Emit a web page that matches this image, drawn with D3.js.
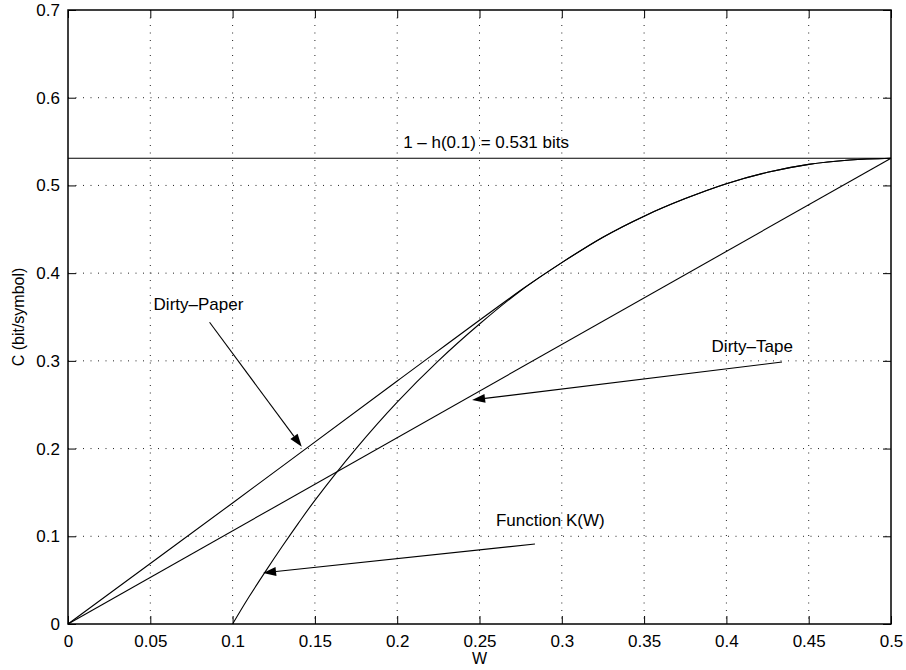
<!DOCTYPE html>
<html>
<head>
<meta charset="utf-8">
<script src="https://cdn.jsdelivr.net/npm/d3@7"></script>
<style>
  body { margin: 0; background: #fff; }
  text { font-family: "Liberation Sans", Arial, Helvetica, sans-serif; fill: #000; }
</style>
</head>
<body>
<div id="chart"></div>
<script>
// data
var xTicks = [0, 0.05, 0.1, 0.15, 0.2, 0.25, 0.3, 0.35, 0.4, 0.45, 0.5];
var yTicks = [0, 0.1, 0.2, 0.3, 0.4, 0.5, 0.6, 0.7];

// Function K(W)
var kW = [0.1, 0.11, 0.12, 0.13, 0.14, 0.15, 0.175, 0.2, 0.225, 0.25, 0.275, 0.3, 0.325, 0.35, 0.375, 0.4, 0.425, 0.45, 0.475, 0.5];
var kC = [0, 0.031, 0.060, 0.088, 0.115, 0.141, 0.200, 0.253, 0.300, 0.342, 0.380, 0.412, 0.441, 0.465, 0.485, 0.502, 0.515, 0.524, 0.529, 0.531];

// Dirty-Paper (straight from origin, then along K)
var paperW = [0, 0.1, 0.2, 0.277, 0.3, 0.325, 0.35, 0.375, 0.4, 0.425, 0.45, 0.475, 0.5];
var paperC = [0, 0.138, 0.277, 0.383, 0.412, 0.441, 0.465, 0.485, 0.502, 0.515, 0.524, 0.529, 0.531];

// Dirty-Tape
var tapeW = [0, 0.5];
var tapeC = [0, 0.531];

// 1 - h(0.1)
var limitW = [0, 0.5];
var limitC = [0.531, 0.531];

// labels and arrows (data coords)
var labels = ["1 \u2013 h(0.1) = 0.531 bits", "Dirty\u2013Paper", "Dirty\u2013Tape", "Function K(W)"];
var labelX = [0.254, 0.052, 0.391, 0.260];
var labelY = [0.543, 0.358, 0.310, 0.112];
var labelAnchor = ["middle", "start", "start", "start"];
var arrowFrom = [[0.086, 0.344], [0.4338, 0.2987], [0.2837, 0.0912]];
var arrowTo = [[0.142, 0.202], [0.2455, 0.2554], [0.1185, 0.0582]];

var width = 906, height = 670;
var margin = {left: 68, top: 10, right: 15, bottom: 46};
var w = width - margin.left - margin.right,
    h = height - margin.top - margin.bottom;

var svg = d3.select("#chart").append("svg")
    .attr("width", width).attr("height", height)
    .style("background", "#fff");
var g = svg.append("g")
    .attr("transform", "translate(" + margin.left + "," + margin.top + ")");

var xScale = d3.scaleLinear().domain([0, 0.5]).range([0, w]);
var yScale = d3.scaleLinear().domain([0, 0.7]).range([h, 0]);

// grid
g.selectAll(".vgrid").data(xTicks.slice(1, -1)).enter().append("line")
    .attr("x1", function (d) { return xScale(d); })
    .attr("x2", function (d) { return xScale(d); })
    .attr("y1", 0).attr("y2", h)
    .style("stroke", "#222").style("stroke-width", 1).style("stroke-dasharray", "1,6.5");
g.selectAll(".hgrid").data(yTicks.slice(1, -1)).enter().append("line")
    .attr("y1", function (d) { return yScale(d); })
    .attr("y2", function (d) { return yScale(d); })
    .attr("x1", 0).attr("x2", w)
    .style("stroke", "#222").style("stroke-width", 1).style("stroke-dasharray", "1,6.5");

// axes, ticks inside on all four sides
var fmt = function (d) { return d3.format("")(+d.toFixed(2)); };
var xAxis = d3.axisBottom(xScale).tickValues(xTicks).tickSizeInner(-8).tickSizeOuter(0).tickPadding(14).tickFormat(fmt);
var yAxis = d3.axisLeft(yScale).tickValues(yTicks).tickSizeInner(-8).tickSizeOuter(0).tickPadding(14).tickFormat(fmt);
var xTop = d3.axisTop(xScale).tickValues(xTicks).tickSizeInner(-8).tickSizeOuter(0).tickFormat("");
var yRight = d3.axisRight(yScale).tickValues(yTicks).tickSizeInner(-8).tickSizeOuter(0).tickFormat("");

function styleAxis(sel) {
    sel.select(".domain").remove();
    sel.selectAll("line").style("stroke", "#000").style("stroke-width", 1);
    sel.selectAll("text").style("font-size", "17px").style("font-family", "Liberation Sans, Arial, sans-serif");
}
g.append("g").attr("transform", "translate(0," + h + ")").call(xAxis).call(styleAxis)
    .selectAll("text").attr("dy", "0.55em");
g.append("g").call(yAxis).call(styleAxis)
    .selectAll("text").attr("dx", "6px");
g.append("g").call(xTop).call(styleAxis);
g.append("g").attr("transform", "translate(" + w + ",0)").call(yRight).call(styleAxis);

g.append("rect").attr("width", w).attr("height", h)
    .style("fill", "none").style("stroke", "#000").style("stroke-width", 1.5);

// series
function toPts(xs, ys) {
    return xs.map(function (x, i) { return [x, ys[i]]; });
}
var line = d3.line()
    .x(function (d) { return xScale(d[0]); })
    .y(function (d) { return yScale(d[1]); })
    .curve(d3.curveCatmullRom.alpha(0.5));

[toPts(limitW, limitC), toPts(tapeW, tapeC), toPts(paperW, paperC), toPts(kW, kC)].forEach(function (pts) {
    g.append("path").attr("d", line(pts))
        .style("fill", "none").style("stroke", "#000").style("stroke-width", 1.1);
});

// labels
labels.forEach(function (t, i) {
    g.append("text")
        .attr("x", xScale(labelX[i])).attr("y", yScale(labelY[i]))
        .attr("text-anchor", labelAnchor[i])
        .style("font-size", "17px")
        .text(t);
});

// arrows
arrowFrom.forEach(function (a, i) {
    var x1 = xScale(a[0]), y1 = yScale(a[1]);
    var x2 = xScale(arrowTo[i][0]), y2 = yScale(arrowTo[i][1]);
    var ang = Math.atan2(y2 - y1, x2 - x1);
    var len = 13, half = 4.5;
    var bx = x2 - len * Math.cos(ang), by = y2 - len * Math.sin(ang);
    g.append("line").attr("x1", x1).attr("y1", y1).attr("x2", bx).attr("y2", by)
        .style("stroke", "#000").style("stroke-width", 1.1);
    var p = [[x2, y2],
        [bx + half * Math.sin(ang), by - half * Math.cos(ang)],
        [bx - half * Math.sin(ang), by + half * Math.cos(ang)]];
    g.append("polygon").attr("points", p.map(function (q) { return q.join(","); }).join(" "))
        .style("fill", "#000");
});

// axis titles
svg.append("text")
    .attr("x", margin.left + xScale(0.25)).attr("y", 664)
    .attr("text-anchor", "middle").style("font-size", "16px").text("W");
svg.append("text")
    .attr("transform", "translate(24," + (margin.top + yScale(0.35)) + ") rotate(-90)")
    .attr("text-anchor", "middle").style("font-size", "16px").text("C (bit/symbol)");
</script>
</body>
</html>
